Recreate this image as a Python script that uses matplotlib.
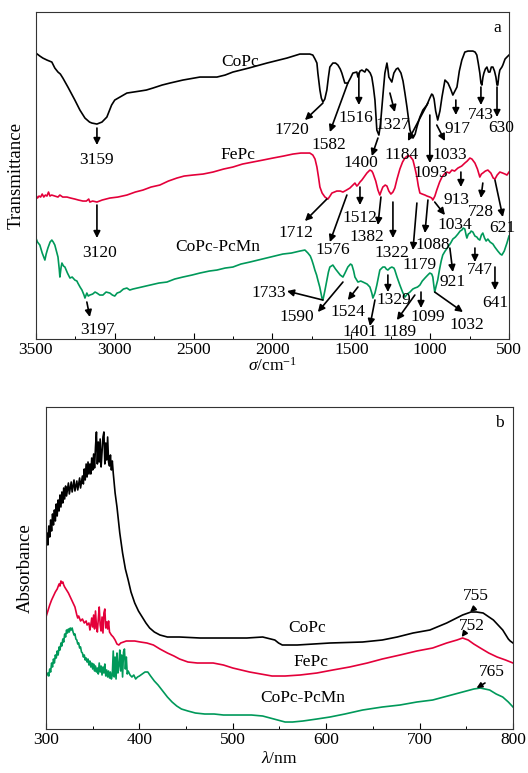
import numpy as np
import matplotlib.pyplot as plt
from matplotlib.ticker import MultipleLocator

plt.rcParams['font.family'] = 'Liberation Serif'
plt.rcParams['mathtext.fontset'] = 'custom'
plt.rcParams['mathtext.rm'] = 'Liberation Serif'
plt.rcParams['mathtext.it'] = 'Liberation Serif:italic'
plt.rcParams['font.size'] = 12.5

BLACK = 'black'
RED = '#e4003a'
GREEN = '#00995a'

# ---- panel a : FT-IR, (wavenumber, transmittance a.u.) ----
copc_ir = [(3500,286),(3475,283),(3456,281),(3430,279),(3399,277),(3380,271),(3360,267),(3345,265),
    (3329,261),(3297,252),(3253,239),(3221,229),(3189,221),(3160,217),(3145,216),(3113,215),(3081,217),
    (3050,222),(3035,228),(3020,234),(3000,239),(2967,242),(2923,246),(2880,247),(2840,248),(2800,249),
    (2758,251),(2700,254),(2650,256),(2568,259),(2460,262),(2352,262),(2300,264),(2251,267),(2150,271),
    (2035,276),(1908,281),(1826,285),(1763,285),(1744,284),(1730,280),(1718,276),(1712,266),(1699,249),
    (1690,241),(1680,237),(1668,240),(1655,249),(1645,262),(1636,272),(1617,276),(1600,276),(1585,274),
    (1570,270),(1560,266),(1541,256),(1522,256),(1505,261),(1490,266),(1465,267),(1458,262),(1445,268),
    (1433,269),(1414,267),(1405,270),(1395,269),(1380,266),(1370,262),(1360,252),(1350,239),(1338,209),
    (1325,204),(1315,215),(1306,232),(1295,252),(1287,266),(1274,276),(1268,270),(1262,262),(1243,257),
    (1236,262),(1230,266),(1215,270),(1204,271),(1185,266),(1172,258),(1160,246),(1147,232),(1128,209),
    (1109,201),(1095,205),(1084,212),(1065,222),(1046,229),(1021,234),(1002,241),(990,245),(983,244),
    (975,240),(965,228),(952,219),(938,228),(925,242),(906,259),(887,256),(870,250),(856,244),(843,248),
    (830,252),(815,268),(799,279),(780,287),(760,288),(729,288),(715,287),(704,284),(695,276),(685,266),
    (678,256),(672,254),(665,262),(659,266),(650,270),(640,272),(630,267),(621,267),(612,272),(602,272),
    (592,268),(583,262),(576,254),(571,254),(564,264),(558,269),(545,272),(539,274),(525,280),(513,282),
    (500,284)]

fepc_ir = [(3500,144),(3490,141),(3480,143),(3470,142),(3460,145),(3450,142),(3440,144),(3430,143),
    (3420,147),(3411,143),(3400,144),(3380,143),(3360,142),(3348,144),(3330,142),(3303,142),(3280,141),
    (3253,140),(3230,139),(3202,138),(3180,138),(3165,140),(3158,137),(3140,138),(3113,137),(3080,139),
    (3031,141),(2980,142),(2923,144),(2870,147),(2821,149),(2770,152),(2714,154),(2660,158),(2606,161),
    (2560,163),(2504,164),(2440,165),(2377,167),(2310,170),(2251,172),(2190,175),(2124,177),(2060,179),
    (1997,181),(1930,183),(1870,185),(1820,186),(1782,186),(1763,186),(1744,184),(1730,180),(1718,172),
    (1708,162),(1699,152),(1685,146),(1667,142),(1648,140),(1635,143),(1623,146),(1592,148),(1570,148),
    (1553,147),(1530,149),(1509,151),(1490,154),(1477,156),(1465,153),(1458,154),(1445,157),(1433,159),
    (1415,163),(1401,166),(1382,169),(1370,168),(1363,166),(1345,158),(1331,149),(1319,144),(1310,148),
    (1300,152),(1285,154),(1274,153),(1262,148),(1249,145),(1236,147),(1224,151),(1210,160),(1192,170),
    (1175,177),(1160,181),(1145,183),(1128,183),(1109,179),(1095,170),(1084,162),(1075,153),(1065,146),
    (1050,145),(1033,144),(1020,143),(1002,142),(990,141),(983,139),(970,143),(958,149),(940,157),
    (925,162),(910,165),(894,167),(878,166),(862,169),(845,168),(824,171),(800,173),(780,176),(765,178),
    (748,181),(735,180),(716,176),(700,170),(685,162),(675,165),(666,166),(650,168),(634,169),(615,166),
    (600,161),(589,160),(575,164),(558,167),(540,166),(525,165),(513,164),(500,167)]

mix_ir = [(3500,101),(3490,97),(3475,94),(3460,86),(3443,79),(3435,85),(3424,91),(3410,97),(3399,99),
    (3390,97),(3380,94),(3370,88),(3360,82),(3352,70),(3348,62),(3340,72),(3335,76),(3325,73),(3316,72),
    (3300,66),(3284,61),(3270,62),(3253,59),(3240,58),(3234,56),(3220,52),(3208,49),(3195,44),(3189,41),
    (3177,46),(3168,43),(3158,44),(3140,45),(3125,47),(3113,46),(3095,44),(3075,44),(3055,47),(3031,46),
    (3015,44),(3000,43),(2985,46),(2967,47),(2945,50),(2923,51),(2905,49),(2885,50),(2830,52),(2777,54),
    (2720,56),(2669,57),(2620,60),(2568,62),(2510,64),(2460,66),(2400,68),(2352,69),(2300,71),(2251,72),
    (2200,75),(2143,77),(2090,79),(2035,81),(1985,83),(1934,85),(1880,86),(1826,88),(1794,89),(1775,86),
    (1760,83),(1750,79),(1740,74),(1731,69),(1720,64),(1712,59),(1700,52),(1686,41),(1680,39),(1668,48),
    (1655,59),(1645,67),(1636,72),(1617,74),(1600,70),(1585,67),(1570,64),(1553,62),(1540,66),(1522,72),
    (1505,75),(1496,74),(1485,68),(1477,62),(1458,57),(1440,58),(1426,57),(1400,55),(1382,52),(1370,46),
    (1363,41),(1350,46),(1338,54),(1328,62),(1319,69),(1300,72),(1287,72),(1278,70),(1268,69),(1255,71),
    (1243,72),(1230,71),(1224,69),(1210,62),(1192,54),(1175,47),(1160,42),(1145,45),(1128,47),(1110,50),
    (1097,51),(1080,52),(1065,54),(1050,58),(1033,61),(1015,64),(1002,66),(990,65),(983,62),(977,54),
    (971,47),(962,53),(952,59),(940,70),(930,78),(920,84),(905,88),(887,92),(870,96),(856,100),(840,102),
    (824,105),(810,108),(799,109),(790,111),(780,110),(772,104),(767,101),(758,105),(748,106),(740,108),
    (729,107),(716,103),(704,102),(695,100),(685,99),(675,104),(666,106),(655,101),(645,98),(634,100),
    (620,97),(602,95),(590,92),(571,88),(555,85),(545,84),(530,88),(513,96),(500,103)]

# label, text position, arrow start, arrow tip
copc_peaks = [('3159',(3113,179),(3113,211),(3113,194)),('1720',(1876,209),(1680,236),(1794,219)),
    ('1582',(1642,194),(1522,256),(1636,207)),('1516',(1471,221),(1452,266),(1452,234)),
    ('1400',(1439,176),(1331,201),(1370,183)),('1327',(1236,214),(1255,246),(1224,227)),
    ('1184',(1179,184),(1014,236),(1141,198)),('1093',(995,166),(1002,224),(1002,176)),
    ('1033',(875,184),(958,214),(906,198)),('917',(824,210),(837,239),(837,224)),
    ('743',(678,224),(678,252),(678,234)),('630',(551,211),(576,252),(576,222))]
fepc_peaks = [('3120',(3094,86),(3113,134),(3113,101)),('1712',(1851,106),(1655,140),(1794,118)),
    ('1576',(1617,89),(1528,144),(1636,97)),('1512',(1445,121),(1445,152),(1445,134)),
    ('1382',(1401,102),(1312,142),(1331,114)),('1322',(1243,86),(1236,137),(1236,101)),
    ('1179',(1065,74),(1084,136),(1109,89)),('1088',(983,94),(1014,139),(1033,106)),
    ('1034',(843,114),(971,137),(906,124)),('913',(830,139),(805,167),(805,152)),
    ('728',(678,127),(666,156),(678,141)),('621',(545,111),(589,159),(539,122))]
mix_peaks = [('3197',(3107,9),(3177,37),(3158,22)),('1733',(2022,46),(1680,39),(1908,48)),
    ('1590',(1845,22),(1553,57),(1712,27)),('1524',(1522,27),(1458,52),(1522,39)),
    ('1401',(1445,7),(1350,39),(1382,13)),('1329',(1230,39),(1268,64),(1268,47)),
    ('1189',(1192,7),(1097,44),(1211,19)),('1099',(1014,22),(1058,47),(1058,31)),
    ('1032',(767,14),(971,47),(792,27)),('921',(856,57),(875,91),(856,67)),
    ('747',(685,69),(716,91),(716,77)),('641',(589,36),(589,72),(589,49))]

# ---- panel b : UV-vis, (wavelength nm, absorbance a.u.) ----
copc_uv = [(300,186),(301,196),(302,184),(303,203),(304,192),(305,209),(306,198),(307,215),(308,204),
    (309,219),(310,208),(311,225),(312,213),(313,229),(314,218),(315,234),(316,222),(317,237),(318,226),
    (319,241),(320,230),(321,243),(322,233),(324,246),(325,235),(327,247),(328,237),(330,249),(331,238),
    (333,248),(334,239),(336,251),(337,241),(339,253),(340,245),(341,260),(342,249),(343,265),(344,252),
    (345,267),(346,255),(347,265),(348,255),(349,271),(350,259),(351,275),(352,261),(353,282),(354,297),
    (355,265),(356,287),(357,267),(358,290),(359,262),(360,277),(361,292),(362,297),(363,265),(364,286),
    (365,269),(366,292),(367,267),(368,263),(369,274),(370,259),(371,268),(372,256),(373,246),(374,236),
    (376,222),(379,196),(382,176),(385,160),(388,149),(391,137),(395,126),(399,118),(403,112),(407,106),
    (411,101),(416,97),(422,94),(430,92),(443,92),(465,91),(497,91),(515,91),(532,92),(545,89),(549,86),
    (553,84),(569,84),(604,86),(639,87),(660,89),(676,92),(693,96),(711,99),(729,106),(746,114),(755,117),
    (761,117),(768,116),(779,109),(789,99),(795,90),(797,88),(800,86)]

fepc_uv = [(300,112),(302,118),(304,124),(306,129),(308,133),(310,137),(312,140),(314,145),(315,143),
    (316,148),(317,146),(318,147),(319,144),(320,142),(322,139),(324,136),(326,132),(328,128),(330,124),
    (331,122),(332,118),(333,114),(334,111),(335,113),(337,108),(339,110),(341,106),(343,108),(344,104),
    (346,106),(347,99),(348,104),(349,111),(350,102),(351,114),(352,100),(353,118),(354,103),(355,97),
    (356,110),(357,122),(358,104),(359,98),(360,112),(361,96),(362,116),(363,120),(364,101),(365,107),
    (366,100),(367,108),(368,97),(370,94),(372,92),(374,89),(376,85),(378,84),(380,86),(383,87),(386,88),
    (390,88),(395,88),(401,87),(408,86),(415,84),(422,80),(430,76),(437,73),(443,70),(452,67),(462,66),
    (479,66),(490,64),(500,61),(518,57),(530,55),(542,53),(556,53),(572,54),(590,56),(607,59),(625,62),
    (644,66),(660,70),(679,74),(697,78),(714,81),(729,86),(740,89),(746,91),(749,90),(752,89),(758,85),
    (765,81),(774,76),(783,72),(792,69),(800,66)]

mix_uv = [(300,52),(302,56),(303,53),(304,60),(305,57),(306,66),(307,62),(308,70),(309,66),(310,74),
    (311,71),(312,78),(313,74),(314,82),(315,79),(316,86),(317,83),(318,90),(319,87),(320,95),(321,92),
    (322,99),(323,96),(324,100),(325,97),(326,101),(327,99),(328,101),(329,97),(330,94),(331,95),(332,90),
    (333,89),(334,85),(335,86),(336,81),(337,82),(338,77),(339,76),(340,72),(341,74),(342,69),(343,71),
    (344,67),(345,70),(346,64),(347,68),(348,62),(349,66),(350,60),(351,65),(352,58),(353,63),(354,57),
    (355,61),(356,55),(357,66),(358,57),(359,63),(360,54),(361,62),(362,56),(363,65),(364,53),(365,59),
    (366,52),(367,58),(368,51),(369,57),(370,50),(371,54),(372,78),(373,52),(374,72),(375,50),(376,76),
    (377,56),(378,63),(379,79),(380,58),(381,74),(382,52),(383,77),(384,80),(385,60),(386,72),(387,55),
    (388,58),(390,54),(392,52),(394,54),(396,50),(398,52),(400,53),(403,55),(406,57),(409,57),(412,53),
    (416,48),(420,44),(425,38),(430,32),(435,27),(440,23),(445,20),(452,18),(460,16),(470,15),(480,15),
    (490,14),(500,14),(510,14),(520,14),(532,13),(540,11),(548,9),(556,7),(564,7),(575,8),(590,10),
    (604,12),(620,15),(639,19),(660,22),(679,24),(697,27),(714,29),(730,33),(746,37),(758,40),(765,41),
    (770,40),(775,39),(782,35),(789,32),(795,27),(800,22)]

uv_peaks = [('755',(760,133),(759,121),(754,117)),('752',(756,103),(749,97),(745,92)),
    ('765',(777,57),(770,46),(761,41))]

arrow = dict(arrowstyle='-|>', color='black', lw=1.2, mutation_scale=10, shrinkA=0, shrinkB=0)


def style(ax):
    ax.tick_params(direction='in', length=4, width=0.8, pad=2, left=False, labelleft=False)
    ax.tick_params(which='minor', direction='in', length=2.5, width=0.7)
    for s in ax.spines.values():
        s.set_linewidth(0.8)
        s.set_color('#333333')


fig = plt.figure(figsize=(5.28, 7.73), dpi=100)

# panel a
ax1 = fig.add_axes([0.068, 0.5614, 0.896, 0.423])
for data, c in [(copc_ir, BLACK), (fepc_ir, RED), (mix_ir, GREEN)]:
    x, y = np.array(data).T
    ax1.plot(x, y, color=c, lw=1.2)
ax1.set_xlim(3500, 500)
ax1.set_ylim(0, 327)
ax1.xaxis.set_major_locator(MultipleLocator(500))
ax1.xaxis.set_minor_locator(MultipleLocator(250))
style(ax1)
ax1.set_ylabel('Transmittance', fontsize=13.5, labelpad=8)
ax1.set_xlabel(r'$\sigma$/cm$^{-1}$', labelpad=-1)
for lab, txt, p0, p1 in copc_peaks + fepc_peaks + mix_peaks:
    ax1.annotate('', xy=p1, xytext=p0, arrowprops=arrow)
    ax1.text(txt[0], txt[1], lab, ha='center', va='center')
ax1.text(2206, 277, 'CoPc', ha='center', va='center')
ax1.text(2219, 184, 'FePc', ha='center', va='center')
ax1.text(2346, 92, 'CoPc-PcMn', ha='center', va='center')
ax1.text(576, 311, 'a', ha='center', va='center')

# panel b
ax2 = fig.add_axes([0.0871, 0.0569, 0.8845, 0.4166])
for data, c in [(copc_uv, BLACK), (fepc_uv, RED), (mix_uv, GREEN)]:
    x, y = np.array(data).T
    ax2.plot(x, y, color=c, lw=1.2)
ax2.set_xlim(300, 800)
ax2.set_ylim(0, 322)
ax2.xaxis.set_major_locator(MultipleLocator(100))
ax2.xaxis.set_minor_locator(MultipleLocator(50))
style(ax2)
ax2.set_ylabel('Absorbance', fontsize=13.5, labelpad=9)
ax2.set_xlabel(r'$\lambda$/nm', labelpad=2)
for lab, txt, p0, p1 in uv_peaks:
    ax2.annotate('', xy=p1, xytext=p0, arrowprops=dict(arrow, mutation_scale=8))
    ax2.text(txt[0], txt[1], lab, ha='center', va='center')
ax2.text(580, 101, 'CoPc', ha='center', va='center')
ax2.text(584, 67, 'FePc', ha='center', va='center')
ax2.text(575, 31, 'CoPc-PcMn', ha='center', va='center')
ax2.text(785, 306, 'b', ha='center', va='center')

fig.savefig('out.png', dpi=100)
